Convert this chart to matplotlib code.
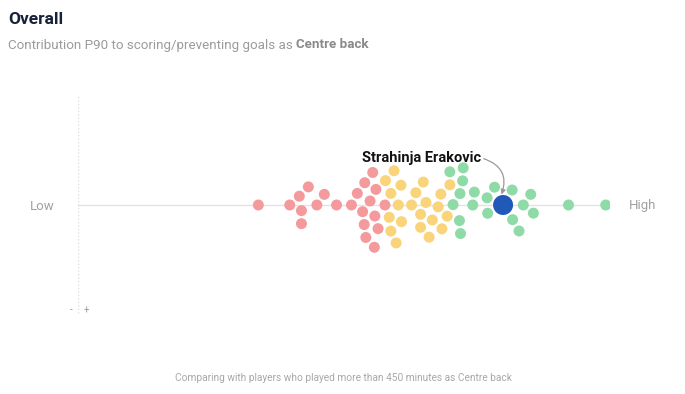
import numpy as np
import matplotlib
matplotlib.use("Agg")
import matplotlib.pyplot as plt

plt.rcParams['font.family'] = ['Roboto', 'DejaVu Sans']

# contribution P90, scaled 0-100 (low -> high)
low_vals = [33.9, 39.8, 41.6, 42.0, 42.0, 43.3, 44.9, 46.3, 48.6, 51.4, 52.5,
            53.5, 53.8, 53.9, 54.1, 54.9, 55.4, 55.7, 55.8, 56.0, 56.4, 57.7]
mid_vals = [57.8, 58.5, 58.8, 58.8, 59.4, 59.8, 60.2, 60.7, 60.8, 62.7, 63.5,
            64.4, 64.4, 64.9, 65.4, 66.0, 66.6, 67.7, 68.2, 68.4, 69.4, 69.9]
high_vals = [69.9, 70.5, 71.7, 71.8, 71.9, 72.3, 72.4, 74.2, 74.5, 76.9,
             77.0, 78.3, 81.6, 81.7, 82.9, 83.7, 85.1, 85.6, 92.2, 99.2]
player_name = "Strahinja Erakovic"
player_val = 79.9

group_colors = ['#f59a9c', '#f9d47a', '#8edba8']
player_color = '#2159b8'

W, H, DPI = 685, 394, 100
PX_PER_UNIT = 5.32   # axis 0..100 spans 532 px
R_SMALL, R_BIG, GAP = 5.5, 10.0, 2.0


def beeswarm(xs, radii, order):
    # greedy swarm in pixel space, y closest to the centre line wins
    ys = np.zeros(len(xs))
    placed = []
    for i in order:
        x, r = xs[i], radii[i]
        cands = [0.0]
        for j in placed:
            d = r + radii[j] + GAP
            dx = abs(x - xs[j])
            if dx < d:
                dy = np.sqrt(d * d - dx * dx)
                cands += [ys[j] + dy, ys[j] - dy]
        cands.sort(key=abs)
        for y in cands:
            ok = True
            for j in placed:
                d = r + radii[j] + GAP
                if (x - xs[j]) ** 2 + (y - ys[j]) ** 2 < d * d - 1e-6:
                    ok = False
                    break
            if ok:
                ys[i] = y
                break
        placed.append(i)
    return ys


vals = np.array(low_vals + mid_vals + high_vals + [player_val])
cols = ([group_colors[0]] * len(low_vals) + [group_colors[1]] * len(mid_vals)
        + [group_colors[2]] * len(high_vals) + [player_color])
radii = np.array([R_SMALL] * (len(vals) - 1) + [R_BIG])
order = [len(vals) - 1] + list(np.argsort(vals[:-1], kind='stable'))
ys = beeswarm(vals * PX_PER_UNIT, radii, order)

fig = plt.figure(figsize=(W / DPI, H / DPI), dpi=DPI)
# axes: x 78..610 px, y 95..315 px (centre line at 205 px)
ax = fig.add_axes([78 / W, 1 - 315 / H, 532 / W, 220 / H])
ax.set_xlim(0, 100)
ax.set_ylim(-110, 110)
ax.axis('off')

ax.plot([0, 100], [0, 0], color='#e3e3e3', lw=1, zorder=1)
ax.plot([0, 0], [-108, 110], color='#dddddd', lw=1, ls=(0, (1, 1.5)), zorder=1)

size_small = (2 * R_SMALL * 72 / DPI) ** 2
size_big = (2 * R_BIG * 72 / DPI) ** 2
sizes = [size_small] * (len(vals) - 1) + [size_big]
ax.scatter(vals, ys, s=sizes, c=cols, linewidths=0, zorder=3)

# player label + curved pointer
lbl = ax.text(64.5, 47, player_name, ha='center', va='center', fontsize=10.5,
              fontweight='bold', color='#111111', zorder=5)
fig.canvas.draw()
lb = lbl.get_window_extent()
start = ax.transData.inverted().transform((lb.x1 + 3, lb.y0 + lb.height * 0.45))
ax.annotate("", xy=(player_val - 0.3, R_BIG + 0.5), xytext=(start[0], start[1]),
            arrowprops=dict(arrowstyle='-|>', color='#9a9a9a', lw=0.9,
                            mutation_scale=7, shrinkA=0, shrinkB=0,
                            connectionstyle='arc3,rad=-0.5'),
            zorder=4)

fig.text(8 / W, 1 - 20 / H, "Overall", fontsize=12.5, fontweight='bold',
         color='#16213a', va='center', ha='left')
sub = fig.text(8 / W, 1 - 45 / H, "Contribution P90 to scoring/preventing goals as ",
               fontsize=9.6, color='#9b9b9b', va='center', ha='left')
fig.canvas.draw()
bb = sub.get_window_extent()
fig.text(bb.x1 / W, 1 - 45 / H, "Centre back", fontsize=9.6, fontweight='bold',
         color='#8a8a8a', va='center', ha='left')

fig.text(42 / W, 1 - 206 / H, "Low", fontsize=9.5, color='#a0a0a0', va='center', ha='center')
fig.text(643 / W, 1 - 206 / H, "High", fontsize=9.5, color='#a0a0a0', va='center', ha='center')
fig.text(71 / W, 1 - 310 / H, "-", fontsize=7, color='#9a9a9a', va='center', ha='center')
fig.text(86 / W, 1 - 311 / H, "+", fontsize=7, color='#9a9a9a', va='center', ha='center')
fig.text(343 / W, 1 - 378 / H,
         "Comparing with players who played more than 450 minutes as Centre back",
         fontsize=7.3, color='#a8a8a8', va='center', ha='center')

fig.savefig("out.png", dpi=DPI)
